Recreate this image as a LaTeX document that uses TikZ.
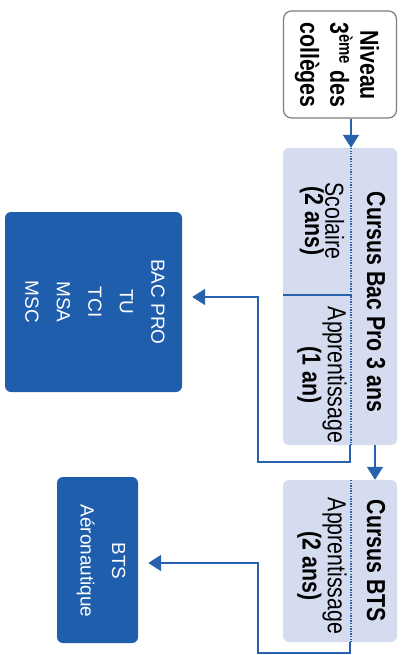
\documentclass[tikz,border=0pt]{standalone}
\usepackage{fontspec}
\setmainfont{Liberation Sans}
\newfontfamily\narrowf[FakeStretch=0.82]{Liberation Sans}
\usetikzlibrary{arrows.meta}
\definecolor{lav}{RGB}{213,220,240}
\definecolor{lineblue}{RGB}{40,98,172}
\definecolor{darkbox}{RGB}{30,94,172}
\definecolor{bordergray}{RGB}{125,125,125}
\begin{document}
\begin{tikzpicture}[x=1pt,y=-1pt,
  lavbox/.style={fill=lav, rounded corners=6pt, draw=none, inner sep=0pt, minimum width=114pt},
  whitebox/.style={fill=white, draw=bordergray, line width=1.2pt, rounded corners=8pt, inner sep=0pt},
  bluebox/.style={fill=darkbox, draw=none, rounded corners=6pt, inner sep=0pt},
  rottext/.style={rotate=-90, align=center, inner sep=0pt, text=black},
  boldtxt/.style={font=\narrowf\bfseries\fontsize{26}{30}\selectfont},
  regtxt/.style={font=\narrowf\fontsize{26}{30}\selectfont},
  whitetxt/.style={rotate=-90, align=center, inner sep=0pt, text=white, font=\fontsize{19}{31.5}\selectfont},
  conn/.style={draw=lineblue, line width=1.9pt},
  arr/.style={conn, -{Triangle[width=16pt,length=13pt]}},
  divdot/.style={draw=lineblue, line width=1.3pt, dash pattern=on 1.3pt off 1.3pt}
]
\useasboundingbox (0,0) rectangle (405,655);

% boxes
\node[whitebox, minimum width=113pt, minimum height=107pt] (niv) at (340,64.5) {};
\node[lavbox, minimum height=297pt] (bacpro) at (340,296.5) {};
\node[lavbox, minimum height=162pt] (bts) at (340,561) {};
\node[bluebox, minimum width=177pt, minimum height=180pt] (bacprob) at (93.5,302) {};
\node[bluebox, minimum width=81pt, minimum height=166pt] (btsb) at (97.5,560) {};

% dividers inside lavender boxes
\coordinate (dA) at (351,148);
\coordinate (dB) at (351,445);
\coordinate (dC) at (351,480);
\coordinate (dD) at (351,642);
\draw[divdot] (dA) -- (dB);
\draw[divdot] (dC) -- (dD);
\coordinate (sL) at (283,295);
\coordinate (sR) at (352,295);
\draw[draw=lineblue, line width=1.5pt] (sL) -- (sR);

% texts
\node[rottext, boldtxt] (tniv) at (337,65) {Niveau\\3\textsuperscript{ème} des\\collèges};
\node[rottext, boldtxt] (tbac) at (376,302) {Cursus Bac Pro 3 ans};
\node[rottext] (tsco) at (322,221) {{\narrowf\fontsize{26}{30}\selectfont Scolaire}\\{\narrowf\bfseries\fontsize{26}{30}\selectfont (2 ans)}};
\node[rottext] (tapp) at (322,375) {{\narrowf\fontsize{26}{30}\selectfont Apprentissage}\\{\narrowf\bfseries\fontsize{26}{30}\selectfont (1 an)}};
\node[rottext, boldtxt] (tbts) at (376,561) {Cursus BTS};
\node[rottext] (tapp2) at (322,566) {{\narrowf\fontsize{26}{30}\selectfont Apprentissage}\\{\narrowf\bfseries\fontsize{26}{30}\selectfont (2 ans)}};
\node[whitetxt] (tbacpro) at (95,302) {BAC PRO\\TU\\TCI\\MSA\\MSC};
\node[whitetxt] (tbtsb) at (101,561) {BTS\\Aéronautique};

% connectors
\draw[arr] ([xshift=11pt]niv.south) -- ([xshift=11pt]bacpro.north);
\draw[arr] ([xshift=35pt]bacpro.south) -- ([xshift=35pt]bts.north);
\draw[arr, shorten >=10pt] ([xshift=10pt]bacpro.south) -- ++(0,17) -- ++(-92,0) |- ([yshift=5pt]bacprob.east);
\draw[arr, shorten >=10pt] ([xshift=10pt]bts.south) -- ++(0,11) -- ++(-92,0) |- ([yshift=-3pt]btsb.east);
\end{tikzpicture}
\end{document}
